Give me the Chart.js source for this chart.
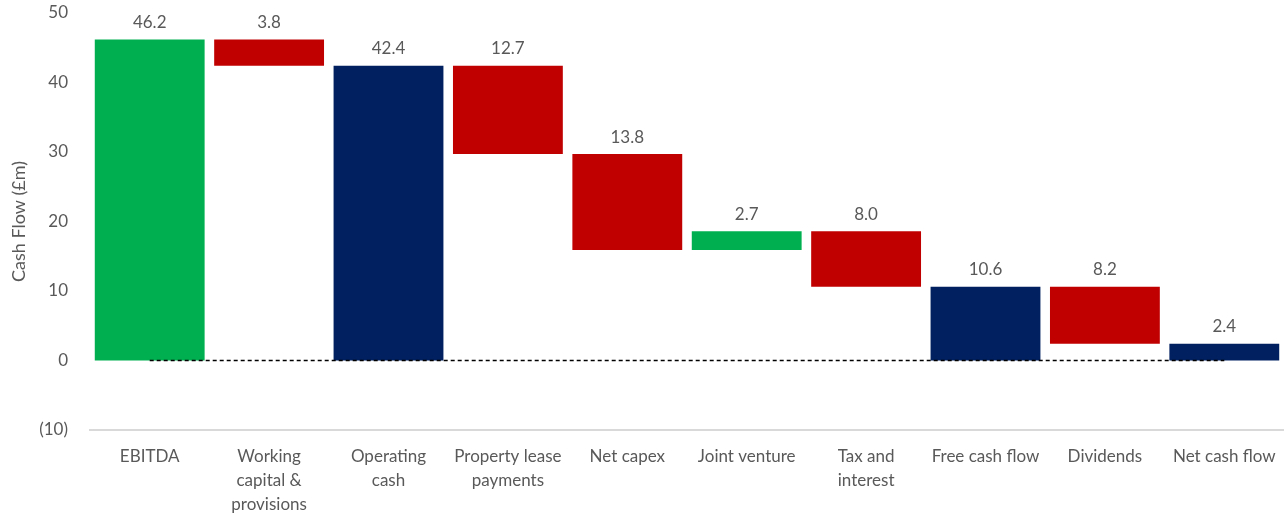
<!DOCTYPE html>
<html>
<head>
<meta charset="utf-8">
<script src="https://cdn.jsdelivr.net/npm/chart.js@4.4.1/dist/chart.umd.min.js"></script>
<style>
html,body{margin:0;padding:0;background:#fff;}
#wrap{width:1284px;height:514px;position:relative;}
</style>
</head>
<body>
<div id="wrap"><canvas id="c" width="1284" height="514"></canvas></div>
<script>
const categories = [["EBITDA"],["Working","capital &","provisions"],["Operating","cash"],["Property lease","payments"],["Net capex"],["Joint venture"],["Tax and","interest"],["Free cash flow"],["Dividends"],["Net cash flow"]];
const barLow  = [0, 42.4, 0, 29.7, 15.9, 15.9, 10.6, 0, 2.4, 0];
const barHigh = [46.2, 46.2, 42.4, 42.4, 29.7, 18.6, 18.6, 10.6, 10.6, 2.4];
const amounts = ["46.2","3.8","42.4","12.7","13.8","2.7","8.0","10.6","8.2","2.4"];
const kinds = ["inc","dec","total","dec","dec","inc","dec","total","dec","total"];
const zeroLine = [0,0,0,0,0,0,0,0,0,0];
const yTicks = [-10,0,10,20,30,40,50];

const colorMap = {inc:"#00B050", dec:"#C00000", total:"#002060"};
const FONT = "Lato, 'Open Sans', sans-serif";

const labelPlugin = {
  id:"valLabels",
  afterDatasetsDraw(chart){
    const ctx = chart.ctx;
    const meta = chart.getDatasetMeta(1);
    ctx.save();
    ctx.font = "17px " + FONT;
    ctx.fillStyle = "#595959";
    ctx.textAlign = "center";
    ctx.textBaseline = "middle";
    meta.data.forEach((el,i)=>{
      const top = chart.scales.y.getPixelForValue(barHigh[i]);
      ctx.fillText(amounts[i], el.x, top - 17);
    });
    ctx.restore();
  }
};

new Chart(document.getElementById("c"), {
  type:"bar",
  data:{
    labels: categories,
    datasets:[
      {type:"line", data: zeroLine, borderColor:"#000", borderWidth:1.5, borderDash:[4,3], pointRadius:0, order:0},
      {type:"bar", data: barLow.map((v,i)=>[v, barHigh[i]]), backgroundColor: kinds.map(k=>colorMap[k]),
       borderWidth:0, barPercentage:0.92, categoryPercentage:1.0, order:1}
    ]
  },
  options:{
    responsive:false,
    animation:false,
    layout:{padding:{top:13,right:0,left:8,bottom:0}},
    plugins:{legend:{display:false}, tooltip:{enabled:false}},
    scales:{
      x:{
        grid:{display:false, drawTicks:false},
        border:{display:true, color:"#D9D9D9", width:2},
        ticks:{color:"#595959", font:{family:FONT, size:17, lineHeight:1.42}, padding:14, maxRotation:0, autoSkip:false},
        afterFit(s){ s.height = 84; s.paddingTop = 0; s.paddingBottom = 0; s.paddingLeft = 0; s.paddingRight = 0; }
      },
      y:{
        min:-10, max:50,
        afterBuildTicks(s){ s.ticks = yTicks.map(v=>({value:v})); },
        grid:{display:false, drawTicks:false},
        border:{display:false},
        ticks:{color:"#595959", font:{family:FONT, size:17}, padding:22,
          callback:(v)=> v<0 ? "("+Math.abs(v)+")" : String(v)},
        title:{display:true, text:"Cash Flow (£m)", color:"#595959", font:{family:FONT, size:18}, padding:{top:0,bottom:0}},
        afterFit(s){ s.width = 82; s.paddingTop = 0; s.paddingBottom = 0; }
      }
    }
  },
  plugins:[labelPlugin]
});
</script>
</body>
</html>
